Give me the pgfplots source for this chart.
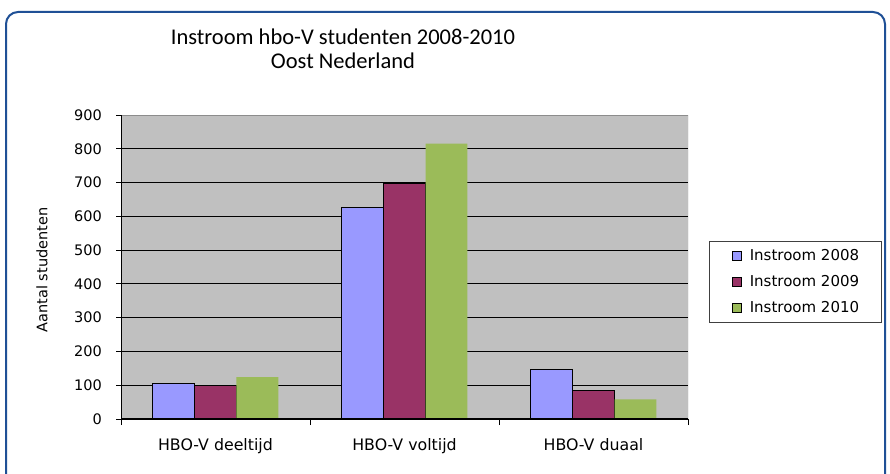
\documentclass[border=0pt]{standalone}
\usepackage{fontspec}
\setmainfont{DejaVu Sans}
\newfontfamily\titlefont{Carlito}
\usepackage{pgfplots}
\pgfplotsset{compat=1.18}
\definecolor{c2008}{HTML}{9999FF}
\definecolor{c2009}{HTML}{993366}
\definecolor{c2010}{HTML}{9BBB59}
\definecolor{plotbg}{HTML}{C0C0C0}
\definecolor{frameblue}{HTML}{1F5096}
\definecolor{boxgray}{HTML}{8C8C8C}

\pgfplotsset{
  sqlegend/.style={legend image code/.code={\draw[##1] (0bp,-4.5bp) rectangle (9bp,4.5bp);}},
}

\begin{document}
\begin{tikzpicture}
\useasboundingbox (0bp,0bp) rectangle (890bp,474bp);
\fill[white] (0bp,0bp) rectangle (890bp,474bp);
\draw[frameblue, line width=2bp, rounded corners=12bp] (6bp,-20bp) -- (6bp,462bp) -- (885bp,462bp) -- (885bp,-20bp);
\node[font=\titlefont\fontsize{22.5bp}{26bp}\selectfont] at (343bp,437bp) {Instroom hbo-V studenten 2008-2010};
\node[font=\titlefont\fontsize{22.5bp}{26bp}\selectfont] at (343bp,413bp) {Oost Nederland};

\begin{axis}[
  at={(121bp,55bp)}, anchor=south west,
  scale only axis, width=567bp, height=304bp,
  xmin=-0.5, xmax=2.5, ymin=0, ymax=900,
  axis background/.style={fill=plotbg},
  axis line style={draw=none},
  xtick pos=bottom, ytick pos=left,
  ytick={0,100,...,900},
  ymajorgrids, grid style={black, line width=1bp},
  tick align=outside, major tick length=5bp,
  ytick style={black, line width=1bp},
  xtick={0,1,2},
  xticklabels={HBO-V deeltijd, HBO-V voltijd, HBO-V duaal},
  xtick style={draw=none},
  extra x ticks={-0.5,0.5,1.5,2.5},
  extra x tick labels={},
  extra x tick style={grid=none, major tick length=6bp, xtick style={draw=black, line width=1bp}},
  tick label style={font=\fontsize{14.5bp}{17bp}\selectfont},
  /pgf/number format/assume math mode=true,
  yticklabel style={inner sep=0pt, xshift=-14bp},
  xticklabel style={inner sep=0pt, yshift=-14bp, font=\fontsize{15.8bp}{18bp}\selectfont},
  ylabel={Aantal studenten},
  ylabel style={at={(axis description cs:-0.1393,0.49)}, anchor=center, font=\fontsize{14.5bp}{17bp}\selectfont},
  legend style={at={(axis description cs:1.037,0.5855)}, anchor=north west,
    draw=black!75, line width=1.2bp, fill=white,
    inner xsep=22bp, inner ysep=7.5bp, row sep=12bp,
    font=\fontsize{15bp}{17bp}\selectfont,
    nodes={inner sep=0pt, text height=11bp, text depth=3bp},
    /tikz/every odd column/.append style={column sep=8bp}},
  legend cell align=left,
]
\addplot[ybar, bar width=0.2222, bar shift=-0.2222, fill=c2008, draw=black, line width=1bp, sqlegend]
  coordinates {(0,104) (1,627) (2,147)};
\addplot[ybar, bar width=0.2222, bar shift=0, fill=c2009, draw=black, line width=1bp, sqlegend]
  coordinates {(0,100) (1,698) (2,84)};
\addplot[ybar, bar width=0.2222, bar shift=0.2222, fill=c2010, draw=none, sqlegend]
  coordinates {(0,124) (1,815) (2,58)};
\legend{Instroom 2008, Instroom 2009, Instroom 2010}
\draw[boxgray, line width=1bp] (rel axis cs:0,1) -- (rel axis cs:1,1) -- (rel axis cs:1,0);
\draw[black, line width=1.2bp] (rel axis cs:0,1) -- (rel axis cs:0,0) -- (rel axis cs:1,0);
\end{axis}
\end{tikzpicture}
\end{document}
